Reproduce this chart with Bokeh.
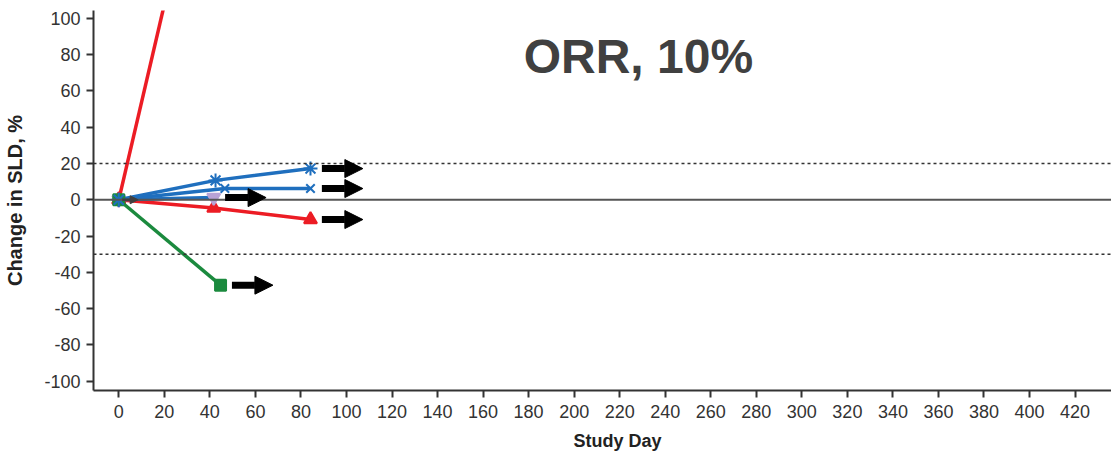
from bokeh.plotting import figure
from bokeh.models import Span, Label, Arrow, NormalHead, FixedTicker, PrintfTickFormatter, Title
from bokeh.embed import file_html
from bokeh.resources import INLINE

# ---- data ----
title_text = "ORR, 10%"
x_label = "Study Day"
y_label = "Change in SLD, %"
x_ticks = list(range(0, 421, 20))
y_ticks = list(range(-100, 101, 20))
threshold_pd = 20
threshold_pr = -30

# patient series: study day, % change in SLD
p1_day = [0, 42]
p1_sld = [0, 226]            # progressive, off the chart
p2_day = [0, 42.5, 84.2]
p2_sld = [0, 10.7, 17.2]
p3_day = [0, 46.6, 84.2]
p3_sld = [0, 6.2, 6.2]
p4_day = [0, 41.7]
p4_sld = [0, 1.2]
p5_day = [0, 41.7, 84.2]
p5_sld = [0, -4.5, -10.9]
p6_day = [0, 44.7]
p6_sld = [0, -47.1]
p7_day = [0]
p7_sld = [0]

RED = "#ec1c24"
BLUE = "#1f6fbe"
GREEN = "#1b8a3e"
LAV = "#b8a2d6"
FONT = "Liberation Sans"

p = figure(width=1111, height=460, output_backend="svg", toolbar_location=None,
           x_range=(-11.1, 436.0), y_range=(-105.2, 104.4),
           min_border_left=93, min_border_top=10, min_border_right=0, min_border_bottom=70)
p.outline_line_color = None
p.xgrid.visible = False
p.ygrid.visible = False
p.background_fill_color = "white"
p.border_fill_color = "white"

for ax in (p.xaxis[0], p.yaxis[0]):
    ax.axis_line_color = "#333333"
    ax.axis_line_width = 2
    ax.major_tick_line_color = "#333333"
    ax.major_tick_line_width = 2
    ax.major_tick_out = 7
    ax.major_tick_in = 0
    ax.minor_tick_out = 0
    ax.minor_tick_in = 0
    ax.major_label_text_font = FONT
    ax.major_label_text_font_size = "18px"
    ax.major_label_text_color = "#333333"
    ax.axis_label_text_font = FONT
    ax.axis_label_text_font_style = "bold"
    ax.axis_label_text_color = "#222222"

p.xaxis.ticker = FixedTicker(ticks=x_ticks)
p.yaxis.ticker = FixedTicker(ticks=y_ticks)
p.xaxis.formatter = PrintfTickFormatter(format="%d")
p.yaxis.formatter = PrintfTickFormatter(format="%d")
p.yaxis.axis_label = y_label
p.yaxis.axis_label_text_font_size = "20px"
p.xaxis.major_label_standoff = 7
p.yaxis.major_label_standoff = 6
p.yaxis.axis_label_standoff = 15

# x-axis title, placed where the reference puts it (slightly right of centre)
p.add_layout(Title(text=x_label, align="left", offset=480, vertical_align="middle",
                   standoff=18, text_font=FONT, text_font_style="bold",
                   text_font_size="18px", text_color="#222222"), "below")

# reference lines
p.add_layout(Span(location=threshold_pd, dimension="width", line_color="#333333",
                  line_width=1.5, line_dash="3 3"))
p.add_layout(Span(location=threshold_pr, dimension="width", line_color="#333333",
                  line_width=1.5, line_dash="3 3"))
p.add_layout(Span(location=0, dimension="width", line_color="#555555", line_width=2))

LW = 3.5

def series(days, vals, color, marker, mcolor=None, size=13):
    mcolor = mcolor or color
    if len(days) > 1:
        p.line(days, vals, line_color=color, line_width=LW)
    p.scatter(days, vals, marker=marker, size=size, line_color=mcolor,
              fill_color=mcolor, line_width=2)

def ongoing(days, vals):
    lx, ly = days[-1], vals[-1]
    p.add_layout(Arrow(end=NormalHead(size=18, fill_color="black", line_color="black", line_width=1),
                       x_start=lx + 5, y_start=ly, x_end=lx + 23, y_end=ly,
                       line_color="black", line_width=7))

series(p1_day, p1_sld, RED, "triangle")
series(p5_day, p5_sld, RED, "triangle")
series(p4_day, p4_sld, BLUE, "inverted_triangle", mcolor=LAV)
series(p3_day, p3_sld, BLUE, "x", size=12)
series(p2_day, p2_sld, BLUE, "asterisk", size=14)
series(p6_day, p6_sld, GREEN, "square", size=11)
series(p7_day, p7_sld, BLUE, "asterisk", size=14)

for d, v in ((p2_day, p2_sld), (p3_day, p3_sld), (p4_day, p4_sld),
             (p5_day, p5_sld), (p6_day, p6_sld)):
    ongoing(d, v)

# short arrow at baseline (patient with baseline only)
p.add_layout(Arrow(end=NormalHead(size=8, fill_color="#404040", line_color="#404040"),
                   x_start=p7_day[-1] + 1.5, y_start=p7_sld[-1],
                   x_end=p7_day[-1] + 8.5, y_end=p7_sld[-1],
                   line_color="#404040", line_width=2.5))

p.add_layout(Label(x=228.2, y=79.2, text=title_text, text_align="center",
                   text_baseline="middle", text_font=FONT, text_font_style="bold",
                   text_font_size="48px", text_color="#404040"))

open("out.html", "w").write(file_html(p, INLINE))
